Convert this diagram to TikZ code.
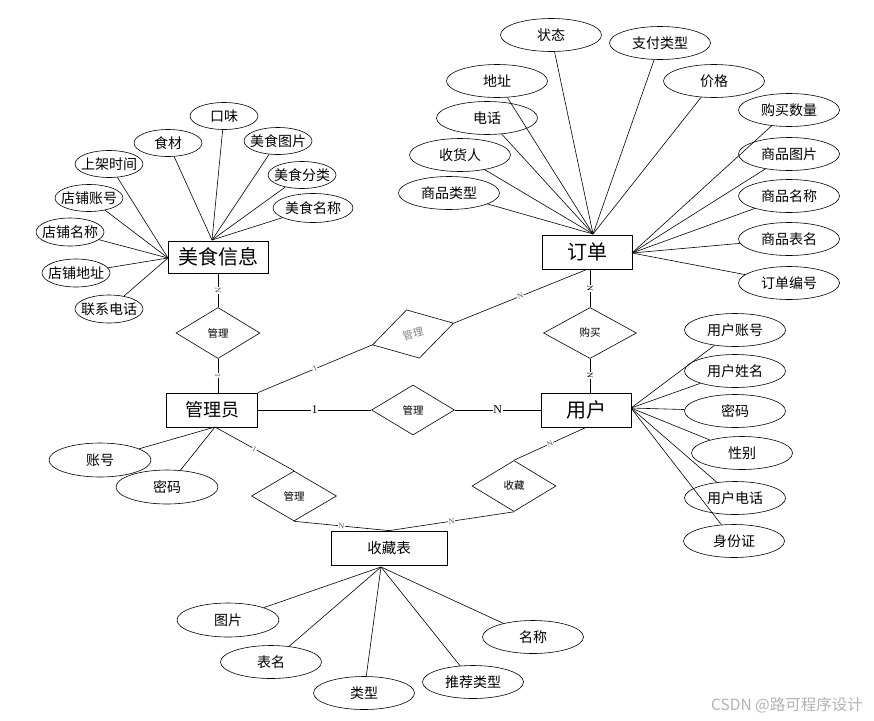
\documentclass[tikz,border=0pt]{standalone}
\usepackage{fontspec}
\setmainfont{Noto Sans CJK SC}
\newfontfamily\numfont{Liberation Serif}
\usetikzlibrary{shapes.geometric}
\begin{document}
\begin{tikzpicture}[x=1pt,y=-1pt,line width=0.6pt,
ent/.style={draw,line width=0.8pt,rectangle,minimum width=90pt,minimum height=34pt,inner sep=0pt,font=\fontsize{20}{22}\selectfont},
rel/.style={draw,diamond,minimum width=84pt,minimum height=50pt,inner sep=0pt,font=\fontsize{10.5}{12}\selectfont},
attr/.style={draw,ellipse,minimum width=101pt,minimum height=33pt,inner sep=0pt,font=\fontsize{14}{16}\selectfont},
attrs/.style={attr,minimum width=68pt,minimum height=27pt,inner xsep=-6pt},
lab/.style={fill=white,inner sep=0.5pt,sloped,font=\numfont\fontsize{8}{9}\selectfont,text=black!65},
labbig/.style={lab,font=\numfont\fontsize{12}{13}\selectfont,text=black}]
\useasboundingbox (0,0) rectangle (874,720);
% entities
\path
(218,257) node[ent,minimum width=100pt,minimum height=32pt](E1){美食信息}
(587,252) node[ent](E2){订单}
(212,410) node[ent,minimum width=91pt,font=\fontsize{18}{20}\selectfont](E3){管理员}
(586,410) node[ent](E4){用户}
(389,548) node[ent,minimum width=116pt,font=\fontsize{14.5}{16}\selectfont](E5){收藏表};
% relations
\path
(218,333) node[rel,minimum height=51pt](R1){管理}
(413,334) node[rel,rotate=15,text=black!50](R2){管理}
(413,410) node[rel,minimum width=83pt](R3){管理}
(590,333) node[rel,minimum width=93pt,minimum height=51pt](R4){购买}
(294,496) node[rel,minimum width=85pt](R5){管理}
(514,486) node[rel,minimum height=51pt](R6){收藏};
% 美食信息
\path
(224,116) node[attrs](m1){口味}
(168,143) node[attrs](m2){食材}
(278,141) node[attrs](m3){美食图片}
(109,164) node[attrs](m4){上架时间}
(302,175) node[attrs](m5){美食分类}
(89,198) node[attrs](m6){店铺账号}
(313,208) node[attrs,minimum width=80pt,minimum height=29pt](m7){美食名称}
(70,232) node[attrs,minimum height=28pt](m8){店铺名称}
(76,273) node[attrs,minimum height=28pt](m9){店铺地址}
(109,309) node[attrs,minimum height=28pt](m10){联系电话};
\coordinate (mt) at (212,240);
\coordinate (ml) at (168,258);
\foreach \i in {1,2,3,5,7} \path[draw] (mt)--(m\i);
\foreach \i in {4,6,8,9,10} \path[draw] (ml)--(m\i);
% 订单
\path
(551,35) node[attr](d1){状态}
(660,43) node[attr](d2){支付类型}
(497,81) node[attr](d3){地址}
(714,81) node[attr](d4){价格}
(487,118) node[attr](d5){电话}
(789,110) node[attr](d6){购买数量}
(460,155) node[attr](d7){收货人}
(789,154) node[attr](d8){商品图片}
(449,193) node[attr](d9){商品类型}
(789,196) node[attr](d10){商品名称}
(789,239) node[attr](d11){商品表名}
(789,283) node[attr](d12){订单编号};
\coordinate (dt) at (593,234);
\coordinate (dr) at (632,253);
\foreach \i in {1,2,3,4,5,7,9} \path[draw] (dt)--(d\i);
\foreach \i in {6,8,10,11,12} \path[draw] (dr)--(d\i);
% 用户
\path
(735,330) node[attr](u1){用户账号}
(735,371) node[attr](u2){用户姓名}
(735,411) node[attr](u3){密码}
(742,453) node[attr](u4){性别}
(735,498) node[attr](u5){用户电话}
(734,541) node[attr](u6){身份证};
\coordinate (ur) at (631,408);
\foreach \i in {1,...,6} \path[draw] (ur)--(u\i);
% 管理员
\path
(100,460) node[attr,minimum width=102pt,minimum height=34pt](g1){账号}
(167,487) node[attr,minimum width=102pt,minimum height=34pt](g2){密码};
\coordinate (gb) at (215,427);
\path[draw] (gb)--(g1);
\path[draw] (gb)--(g2);
% 收藏表
\path
(228,620) node[attr,minimum width=102pt,minimum height=34pt](s1){图片}
(533,637) node[attr](s2){名称}
(271,662) node[attr](s3){表名}
(473,682) node[attr](s4){推荐类型}
(364,693) node[attr](s5){类型};
\coordinate (sb) at (381,567);
\foreach \i in {1,...,5} \path[draw] (sb)--(s\i);
% relationships
\path[draw] (E1.south)--node[lab]{N}(R1.north);
\path[draw] (R1.south)--node[lab]{1}(R1.south|-E3.north);
\path[draw] (E3.north east)--node[lab]{1}(R2.west);
\path[draw] (R2.east)--node[lab]{N}(E2.south);
\path[draw] (R4.north|-E2.south)--node[lab,text=black]{N}(R4.north);
\path[draw] (R4.south)--node[lab,text=black]{N}(R4.south|-E4.north);
\path[draw] (E3.east)--node[labbig]{1}(R3.west);
\path[draw] (R3.east)--node[labbig]{N}(E4.west);
\path[draw] (gb)--node[lab]{1}(R5.north);
\path[draw] (R5.south)--node[lab]{N}(E5.north);
\path[draw] (R6.south)--node[lab]{N}(E5.north);
\path[draw] (R6.north)--node[lab]{N}(E4.south);
% watermark
\node[text=black!30,font=\fontsize{15.5}{17}\selectfont] (wm) at (787,705) {CSDN @路可程序设计};
\end{tikzpicture}
\end{document}
